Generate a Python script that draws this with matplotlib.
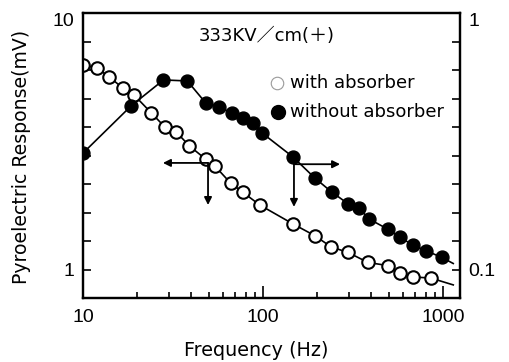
import numpy as np
import matplotlib
matplotlib.use("Agg")
import matplotlib.pyplot as plt
from matplotlib.ticker import FixedLocator, NullFormatter, FixedFormatter

# Pyroelectric response vs chopping frequency
with_freq = [10, 12, 14, 16.7, 19.2, 24, 28.5, 33, 39, 48, 54, 66, 77, 96,
             147, 194, 239, 297, 383, 495, 577, 681, 857]
with_resp = [6.28, 6.11, 5.63, 5.10, 4.80, 4.08, 3.60, 3.44, 3.04, 2.70, 2.54,
             2.18, 2.01, 1.79, 1.51, 1.36, 1.23, 1.17, 1.07, 1.04, 0.973, 0.94, 0.93]

without_freq = [10, 18.5, 28, 38, 48, 57, 67, 77, 88, 99, 147, 194, 241, 297,
                342, 388, 495, 577, 681, 801, 983]
without_resp = [0.285, 0.435, 0.549, 0.544, 0.447, 0.431, 0.408, 0.390, 0.373,
                0.341, 0.275, 0.228, 0.201, 0.181, 0.174, 0.158, 0.144, 0.134,
                0.125, 0.119, 0.112]

# end of the drawn response curves beyond the last measurement
curve_end_freq = 1140
with_curve_end = 0.875
without_curve_end = 0.106

x_ticklabels = ["10", "100", "1000"]

FONT = ["DejaVu Sans", "Noto Sans CJK JP"]
TICKFONT = "Liberation Sans"
plt.rcParams["font.family"] = FONT

fig = plt.figure(figsize=(5.09, 3.62), dpi=100)
ax = fig.add_axes([83 / 509, 1 - 298 / 362, 377 / 509, 285 / 362])
ax.set_xscale("log")
ax.set_yscale("log")
ax.set_xlim(10, 10 ** (1 + 377 / 180))
ax.set_ylim(10 ** (1 - 285 / 257), 10)

# right-hand axis carries the response without absorber (one decade lower)
axr = ax.twinx()
axr.set_yscale("log")
axr.set_ylim(ax.get_ylim()[0] / 10, 1)

lw_line = 1.2
ms = 9

ax.plot(with_freq + [curve_end_freq], with_resp + [with_curve_end],
        color="black", lw=lw_line, zorder=2)
ax.plot(with_freq, with_resp, linestyle="none", marker="o", ms=ms,
        mfc="white", mec="black", mew=1.5, zorder=3)

axr.plot(without_freq + [curve_end_freq], without_resp + [without_curve_end],
         color="black", lw=lw_line, zorder=2)
axr.plot(without_freq, without_resp, linestyle="none", marker="o", ms=ms + 0.3,
         mfc="black", mec="black", zorder=3)

# ticks
yt = [10 ** (k / 9) for k in range(-1, 10)]
ax.yaxis.set_major_locator(FixedLocator([1, 10]))
ax.yaxis.set_major_formatter(FixedFormatter(["1", "10"]))
ax.yaxis.set_minor_locator(FixedLocator(yt))
ax.yaxis.set_minor_formatter(NullFormatter())
axr.yaxis.set_major_locator(FixedLocator([0.1, 1]))
axr.yaxis.set_major_formatter(FixedFormatter(["0.1", "1"]))
axr.yaxis.set_minor_locator(FixedLocator([v / 10 for v in yt]))
axr.yaxis.set_minor_formatter(NullFormatter())

ax.xaxis.set_major_locator(FixedLocator([10, 100, 1000]))
ax.xaxis.set_major_formatter(FixedFormatter(x_ticklabels))
minors = [m * d for d in (10, 100) for m in range(2, 10)]
ax.xaxis.set_minor_locator(FixedLocator(minors))
ax.xaxis.set_minor_formatter(NullFormatter())

ax.tick_params(axis="x", which="major", direction="in", length=9, width=1.2,
               pad=8, labelsize=14, labelfontfamily=TICKFONT)
ax.tick_params(axis="x", which="minor", direction="in", length=4, width=1.2)
ax.tick_params(axis="y", which="both", direction="in", length=6, width=1.2,
               pad=6, labelsize=14, labelfontfamily=TICKFONT)
axr.tick_params(axis="y", which="both", direction="in", length=6, width=1.2,
                pad=6, labelsize=14, labelfontfamily=TICKFONT)
for a in (ax, axr):
    for s in a.spines.values():
        s.set_linewidth(1.6)
# top labels sit just below the upper spine
ax.get_yticklabels()[1].set_va("top")
axr.get_yticklabels()[1].set_va("top")

# annotation arrows
arrow_kw = dict(arrowstyle="-|>", color="black", lw=1.3, mutation_scale=11,
                shrinkA=0, shrinkB=0)
ax.annotate("", xy=(27.8, 2.61), xytext=(49.5, 2.61), arrowprops=arrow_kw)
ax.annotate("", xy=(49.5, 1.79), xytext=(49.5, 2.61), arrowprops=arrow_kw)
ax.annotate("", xy=(268, 2.58), xytext=(148.6, 2.58), arrowprops=arrow_kw)
ax.annotate("", xy=(148.6, 1.76), xytext=(148.6, 2.58), arrowprops=arrow_kw)

# key
ax.plot([0.515], [0.754], transform=ax.transAxes, marker="o", ms=9,
        mfc="white", mec="#9a9a9a", mew=0.8, clip_on=False)
ax.plot([0.517], [0.653], transform=ax.transAxes, marker="o", ms=10,
        mfc="black", mec="black", clip_on=False)
ax.text(0.549, 0.754, "with absorber", transform=ax.transAxes, fontsize=13,
        va="center", ha="left")
ax.text(0.549, 0.653, "without absorber", transform=ax.transAxes, fontsize=13,
        va="center", ha="left")

fig.text(267 / 509, 1 - 36 / 362, "333KV／cm(＋)", fontsize=13,
         ha="center", va="center")
fig.text(256 / 509, 1 - 350 / 362, "Frequency (Hz)", fontsize=13.8,
         ha="center", va="center")
fig.text(22 / 509, 1 - 157 / 362, "Pyroelectric Response(mV)", fontsize=13.6,
         rotation=90, ha="center", va="center")

fig.savefig("out.png", dpi=100)
